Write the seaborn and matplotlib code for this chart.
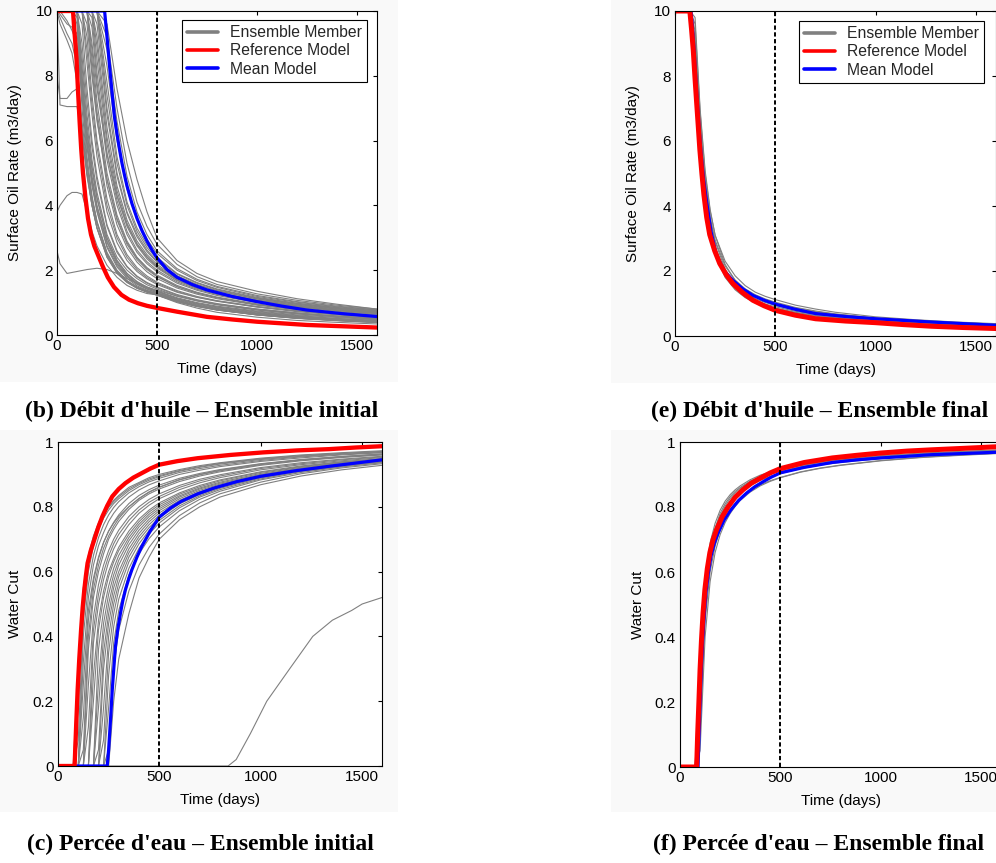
import numpy as np
import pandas as pd
import matplotlib
matplotlib.use("Agg")
import matplotlib.pyplot as plt
import seaborn as sns
from matplotlib.lines import Line2D
from matplotlib.patches import Rectangle

# ------------------------------------------------------------------ data
assimilation_end = 500  # dashed vertical line (days)

# --- (b) oil rate, initial ensemble
oil_grid = [0, 15, 50, 75, 100, 125, 150, 175, 200, 250, 300, 350, 400, 450,
            500, 600, 700, 800, 1000, 1200, 1400, 1600]
oil_initial_members = [
    [10, 10, 10, 10, 10, 7.4, 5.5, 4.3, 3.5, 2.5, 1.95, 1.65, 1.45, 1.33, 1.23, 1.0, 0.83, 0.7, 0.55, 0.45, 0.39, 0.34],
    [10, 10, 10, 10, 9.6, 7.6, 5.8, 4.6, 3.8, 2.7, 2.1, 1.75, 1.52, 1.38, 1.28, 1.06, 0.9, 0.78, 0.62, 0.51, 0.44, 0.38],
    [10, 10, 10, 10, 10, 8.0, 6.2, 4.9, 4.0, 2.9, 2.25, 1.85, 1.6, 1.45, 1.34, 1.12, 0.97, 0.87, 0.72, 0.6, 0.51, 0.45],
    [10, 10, 10, 10, 10, 8.6, 6.8, 5.4, 4.4, 3.1, 2.4, 2.0, 1.74, 1.55, 1.42, 1.2, 1.05, 0.93, 0.77, 0.65, 0.56, 0.49],
    [10, 10, 10, 10, 10, 9.6, 7.6, 6.0, 4.9, 3.4, 2.6, 2.12, 1.82, 1.62, 1.48, 1.25, 1.09, 0.97, 0.8, 0.68, 0.58, 0.5],
    [10, 10, 10, 10, 10, 10, 8.4, 6.8, 5.5, 3.8, 2.85, 2.3, 1.96, 1.73, 1.56, 1.32, 1.16, 1.04, 0.86, 0.72, 0.62, 0.54],
    [10, 10, 10, 10, 10, 10, 9.2, 7.4, 6.0, 4.2, 3.1, 2.48, 2.08, 1.82, 1.63, 1.37, 1.19, 1.06, 0.88, 0.75, 0.65, 0.57],
    [10, 10, 10, 10, 10, 10, 10, 8.2, 6.7, 4.6, 3.4, 2.7, 2.25, 1.95, 1.74, 1.45, 1.26, 1.12, 0.92, 0.78, 0.67, 0.59],
    [10, 10, 10, 10, 10, 10, 10, 8.8, 7.2, 5.0, 3.7, 2.9, 2.4, 2.08, 1.85, 1.53, 1.32, 1.17, 0.96, 0.81, 0.7, 0.61],
    [10, 10, 10, 10, 10, 10, 10, 9.5, 7.8, 5.4, 4.0, 3.1, 2.55, 2.2, 1.95, 1.6, 1.38, 1.22, 1.0, 0.85, 0.73, 0.64],
    [10, 10, 10, 10, 10, 10, 10, 10, 8.5, 5.9, 4.3, 3.35, 2.75, 2.35, 2.07, 1.68, 1.44, 1.27, 1.04, 0.88, 0.76, 0.67],
    [10, 10, 10, 10, 10, 10, 10, 10, 9.2, 6.4, 4.6, 3.55, 2.9, 2.48, 2.18, 1.76, 1.5, 1.32, 1.08, 0.92, 0.8, 0.7],
    [10, 10, 10, 10, 10, 10, 10, 10, 10, 7.0, 5.0, 3.8, 3.1, 2.62, 2.28, 1.83, 1.56, 1.37, 1.12, 0.95, 0.82, 0.72],
    [10, 10, 10, 10, 10, 10, 10, 10, 10, 7.8, 5.5, 4.1, 3.3, 2.78, 2.4, 1.9, 1.62, 1.42, 1.16, 0.98, 0.85, 0.75],
    [10, 10, 10, 10, 10, 10, 10, 10, 10, 9.6, 7.6, 6.0, 4.8, 3.8, 3.0, 2.3, 1.9, 1.65, 1.35, 1.12, 0.95, 0.8],
    [10, 10, 10, 10, 10, 10, 10, 10, 10, 8.8, 6.6, 4.9, 3.8, 3.1, 2.6, 2.05, 1.72, 1.5, 1.22, 1.03, 0.89, 0.78],
    [10, 10, 10, 10, 10, 10, 10, 9.0, 7.6, 5.6, 4.3, 3.4, 2.8, 2.4, 2.1, 1.7, 1.45, 1.28, 1.05, 0.89, 0.77, 0.68],
    [10, 10, 10, 10, 10, 10, 9.6, 8.0, 6.6, 4.8, 3.6, 2.85, 2.38, 2.05, 1.82, 1.5, 1.3, 1.15, 0.94, 0.8, 0.69, 0.61],
    [10, 10, 10, 10, 10, 7.8, 6.0, 4.7, 3.85, 2.75, 2.15, 1.8, 1.57, 1.42, 1.31, 1.1, 0.95, 0.84, 0.68, 0.57, 0.49, 0.43],
    [10, 10, 10, 10, 10, 9.0, 7.2, 5.8, 4.75, 3.35, 2.55, 2.1, 1.8, 1.6, 1.46, 1.23, 1.07, 0.95, 0.78, 0.66, 0.57, 0.5],
    [10, 10, 10, 10, 10, 10, 8.8, 7.1, 5.8, 4.0, 3.0, 2.4, 2.02, 1.77, 1.6, 1.34, 1.17, 1.05, 0.87, 0.74, 0.64, 0.56],
    [10, 10, 10, 10, 10, 10, 10, 8.5, 6.9, 4.8, 3.55, 2.8, 2.33, 2.02, 1.8, 1.49, 1.29, 1.15, 0.94, 0.8, 0.69, 0.6],
    [10, 10, 10, 10, 10, 10, 10, 9.8, 8.1, 5.6, 4.15, 3.2, 2.62, 2.26, 2.0, 1.64, 1.41, 1.25, 1.02, 0.87, 0.75, 0.66],
    [10, 10, 10, 10, 10, 10, 10, 10, 8.9, 6.1, 4.45, 3.45, 2.82, 2.42, 2.13, 1.73, 1.48, 1.3, 1.07, 0.9, 0.78, 0.69],
    [10, 10, 10, 10, 10, 10, 10, 10, 9.6, 6.8, 4.9, 3.75, 3.03, 2.57, 2.25, 1.81, 1.54, 1.36, 1.11, 0.94, 0.82, 0.72],
    [10, 10, 10, 10, 10, 10, 10, 10, 10, 7.4, 5.3, 4.0, 3.2, 2.7, 2.35, 1.88, 1.6, 1.4, 1.14, 0.97, 0.84, 0.74],
    [10, 10, 10, 10, 10, 10, 10, 10, 10, 8.3, 6.0, 4.5, 3.55, 2.95, 2.52, 2.0, 1.68, 1.47, 1.19, 1.01, 0.87, 0.77],
    [10, 10, 10, 10, 10, 10, 10, 10, 10, 9.2, 7.0, 5.3, 4.1, 3.35, 2.8, 2.18, 1.8, 1.56, 1.27, 1.07, 0.92, 0.8],
    [10, 10, 10, 10, 9.8, 7.0, 5.3, 4.2, 3.45, 2.5, 1.97, 1.66, 1.46, 1.33, 1.24, 1.04, 0.9, 0.8, 0.66, 0.56, 0.49, 0.44],
    [10, 10, 10, 10, 10, 8.3, 6.5, 5.2, 4.25, 3.0, 2.3, 1.9, 1.65, 1.48, 1.36, 1.15, 1.0, 0.89, 0.74, 0.62, 0.54, 0.47],
    [10, 9.8, 9.3, 9.0, 8.3, 6.6, 5.2, 4.2, 3.5, 2.55, 2.0, 1.68, 1.48, 1.35, 1.25, 1.04, 0.89, 0.78, 0.63, 0.52, 0.45, 0.4],
    [10, 10, 9.7, 9.4, 9.0, 7.4, 5.9, 4.8, 3.95, 2.85, 2.2, 1.82, 1.57, 1.42, 1.3, 1.08, 0.93, 0.82, 0.66, 0.55, 0.47, 0.41],
    [10, 9.6, 9.1, 8.7, 7.8, 6.2, 4.9, 4.0, 3.3, 2.4, 1.92, 1.63, 1.44, 1.32, 1.23, 1.03, 0.88, 0.77, 0.62, 0.52, 0.45, 0.39],
    [10, 9.9, 9.6, 9.5, 9.3, 7.9, 6.3, 5.1, 4.2, 3.0, 2.3, 1.9, 1.64, 1.47, 1.35, 1.13, 0.98, 0.86, 0.7, 0.58, 0.5, 0.44],
    [8.0, 7.3, 7.3, 7.5, 7.6, 6.4, 5.0, 4.0, 3.3, 2.4, 1.9, 1.62, 1.45, 1.34, 1.26, 1.05, 0.9, 0.79, 0.63, 0.53, 0.46, 0.4],
    [3.8, 4.0, 4.3, 4.4, 4.4, 4.35, 3.8, 3.2, 2.75, 2.15, 1.78, 1.53, 1.38, 1.28, 1.24, 1.03, 0.88, 0.77, 0.62, 0.52, 0.45, 0.39],
    [2.6, 2.2, 1.9, 1.93, 1.96, 1.99, 2.02, 2.04, 2.06, 2.02, 1.9, 1.74, 1.6, 1.48, 1.38, 1.2, 1.06, 0.95, 0.8, 0.68, 0.59, 0.52],
    [10, 7.1, 7.05, 7.05, 7.05, 6.2, 5.0, 4.0, 3.3, 2.45, 1.95, 1.66, 1.48, 1.36, 1.27, 1.06, 0.91, 0.8, 0.64, 0.53, 0.46, 0.41],
]
oil_initial_ref_t = [0, 80, 88, 97, 105, 113, 121, 130, 142, 155, 170, 187, 205, 230, 254, 285,
                     322, 360, 405, 450, 505, 600, 750, 875, 1000, 1125, 1250, 1425, 1600]
oil_initial_ref_v = [10, 10, 9.3, 8.6, 7.55, 6.6, 5.75, 5.0, 4.25, 3.6, 3.1, 2.74, 2.47, 2.1, 1.78, 1.48,
                     1.24, 1.09, 0.98, 0.9, 0.83, 0.72, 0.56, 0.48, 0.41, 0.36, 0.31, 0.27, 0.23]
oil_initial_mean_t = [0, 238, 250, 262, 275, 287, 300, 312, 325, 337, 350, 375, 400, 425, 450,
                      475, 500, 550, 600, 675, 750, 875, 1000, 1125, 1250, 1425, 1600]
oil_initial_mean_v = [10, 10, 9.2, 8.35, 7.5, 6.75, 6.2, 5.75, 5.3, 4.95, 4.6, 4.05, 3.6, 3.22, 2.9,
                      2.62, 2.38, 2.02, 1.78, 1.56, 1.39, 1.19, 1.03, 0.89, 0.77, 0.66, 0.57]

# --- (e) oil rate, final ensemble
oil_final_members = [
    [10, 10, 10, 10, 8.6, 5.8, 4.2, 3.2, 2.6, 1.85, 1.45, 1.2, 1.05, 0.94, 0.86, 0.73, 0.63, 0.56, 0.46, 0.39, 0.34, 0.3],
    [10, 10, 10, 10, 9.0, 6.2, 4.5, 3.4, 2.75, 1.95, 1.52, 1.27, 1.1, 0.98, 0.9, 0.76, 0.66, 0.58, 0.48, 0.41, 0.36, 0.32],
    [10, 10, 10, 10, 9.4, 6.6, 4.8, 3.65, 2.9, 2.05, 1.6, 1.33, 1.15, 1.03, 0.94, 0.8, 0.69, 0.61, 0.5, 0.43, 0.37, 0.33],
    [10, 10, 10, 10, 9.8, 7.0, 5.1, 3.9, 3.1, 2.2, 1.7, 1.4, 1.21, 1.08, 0.98, 0.83, 0.72, 0.64, 0.52, 0.44, 0.38, 0.34],
    [10, 10, 10, 10, 9.2, 6.4, 4.7, 3.6, 2.95, 2.15, 1.72, 1.45, 1.27, 1.14, 1.04, 0.88, 0.77, 0.68, 0.55, 0.47, 0.41, 0.36],
    [10, 10, 10, 10, 8.8, 6.0, 4.3, 3.3, 2.7, 2.0, 1.62, 1.38, 1.22, 1.1, 1.01, 0.86, 0.75, 0.67, 0.55, 0.47, 0.41, 0.37],
    [10, 10, 10, 10, 9.6, 6.9, 5.0, 3.85, 3.1, 2.3, 1.85, 1.55, 1.35, 1.22, 1.12, 0.95, 0.83, 0.73, 0.59, 0.5, 0.43, 0.38],
    [10, 10, 10, 10, 8.4, 5.6, 4.0, 3.05, 2.5, 1.8, 1.42, 1.18, 1.02, 0.92, 0.84, 0.71, 0.61, 0.54, 0.44, 0.37, 0.32, 0.28],
]
oil_final_ref_t = [0, 74, 83, 91, 99, 107, 116, 124, 134, 144, 158, 173, 198, 223, 256, 289,
                   338, 388, 444, 500, 600, 701, 850, 1000, 1140, 1279, 1440, 1600]
oil_final_ref_v = [10, 10, 9.4, 8.8, 8.0, 7.26, 6.45, 5.72, 5.0, 4.35, 3.65, 3.12, 2.62, 2.23, 1.88, 1.61,
                   1.33, 1.1, 0.93, 0.79, 0.64, 0.53, 0.46, 0.41, 0.35, 0.3, 0.26, 0.23]
oil_final_mean_t = [0, 80, 88, 95, 103, 110, 120, 130, 143, 157, 180, 206, 245, 289, 338, 388,
                    444, 500, 600, 701, 850, 1000, 1140, 1279, 1440, 1600]
oil_final_mean_v = [10, 10, 9.4, 8.8, 8.0, 7.3, 6.4, 5.6, 4.8, 4.15, 3.2, 2.5, 2.0, 1.71, 1.45, 1.25,
                    1.1, 0.98, 0.82, 0.69, 0.6, 0.53, 0.48, 0.43, 0.38, 0.33]

# --- (c) water cut, initial ensemble
wct_grid = [0, 50, 75, 100, 125, 150, 175, 200, 225, 250, 275, 300, 350, 400,
            450, 500, 600, 700, 800, 1000, 1200, 1400, 1600]
wct_initial_members = [
    [0, 0, 0, 0.3, 0.55, 0.65, 0.71, 0.75, 0.78, 0.8, 0.82, 0.835, 0.86, 0.875, 0.89, 0.9, 0.915, 0.927, 0.936, 0.95, 0.96, 0.967, 0.973],
    [0, 0, 0, 0.08, 0.45, 0.6, 0.68, 0.73, 0.765, 0.79, 0.81, 0.825, 0.85, 0.868, 0.882, 0.893, 0.91, 0.922, 0.932, 0.946, 0.956, 0.964, 0.97],
    [0, 0, 0, 0, 0.32, 0.52, 0.62, 0.68, 0.72, 0.755, 0.78, 0.8, 0.83, 0.852, 0.868, 0.88, 0.9, 0.913, 0.924, 0.94, 0.951, 0.96, 0.967],
    [0, 0, 0, 0, 0.15, 0.45, 0.57, 0.64, 0.69, 0.725, 0.752, 0.775, 0.81, 0.835, 0.853, 0.867, 0.888, 0.903, 0.915, 0.933, 0.946, 0.955, 0.963],
    [0, 0, 0, 0, 0, 0.36, 0.52, 0.6, 0.655, 0.7, 0.73, 0.755, 0.792, 0.82, 0.84, 0.855, 0.878, 0.895, 0.908, 0.928, 0.942, 0.952, 0.96],
    [0, 0, 0, 0, 0, 0.25, 0.46, 0.56, 0.62, 0.665, 0.7, 0.728, 0.77, 0.8, 0.823, 0.84, 0.866, 0.885, 0.899, 0.921, 0.936, 0.947, 0.956],
    [0, 0, 0, 0, 0, 0, 0.38, 0.5, 0.575, 0.63, 0.67, 0.7, 0.745, 0.78, 0.805, 0.825, 0.853, 0.874, 0.89, 0.914, 0.93, 0.942, 0.952],
    [0, 0, 0, 0, 0, 0, 0.28, 0.45, 0.54, 0.6, 0.64, 0.675, 0.725, 0.762, 0.79, 0.812, 0.843, 0.866, 0.883, 0.908, 0.926, 0.939, 0.949],
    [0, 0, 0, 0, 0, 0, 0, 0.36, 0.48, 0.555, 0.61, 0.65, 0.705, 0.746, 0.777, 0.8, 0.834, 0.858, 0.876, 0.903, 0.922, 0.936, 0.946],
    [0, 0, 0, 0, 0, 0, 0, 0.18, 0.4, 0.5, 0.57, 0.62, 0.683, 0.728, 0.762, 0.788, 0.825, 0.851, 0.87, 0.898, 0.918, 0.933, 0.944],
    [0, 0, 0, 0, 0, 0, 0, 0, 0.3, 0.44, 0.525, 0.585, 0.658, 0.708, 0.745, 0.774, 0.815, 0.843, 0.864, 0.894, 0.915, 0.93, 0.942],
    [0, 0, 0, 0, 0, 0, 0, 0, 0.08, 0.35, 0.47, 0.545, 0.63, 0.686, 0.727, 0.758, 0.803, 0.834, 0.857, 0.889, 0.911, 0.927, 0.94],
    [0, 0, 0, 0, 0, 0, 0, 0, 0, 0.18, 0.38, 0.48, 0.59, 0.655, 0.702, 0.738, 0.788, 0.823, 0.848, 0.883, 0.906, 0.923, 0.936],
    [0, 0, 0, 0, 0, 0, 0, 0, 0, 0, 0.2, 0.33, 0.47, 0.58, 0.645, 0.7, 0.76, 0.8, 0.83, 0.868, 0.895, 0.914, 0.928],
    [0, 0, 0, 0, 0.25, 0.48, 0.58, 0.645, 0.69, 0.725, 0.75, 0.77, 0.8, 0.825, 0.845, 0.86, 0.884, 0.9, 0.913, 0.932, 0.945, 0.955, 0.963],
    [0, 0, 0, 0.18, 0.5, 0.63, 0.7, 0.745, 0.775, 0.798, 0.816, 0.831, 0.855, 0.872, 0.886, 0.896, 0.912, 0.924, 0.934, 0.948, 0.958, 0.965, 0.971],
    [0, 0, 0, 0, 0.4, 0.56, 0.65, 0.705, 0.745, 0.775, 0.798, 0.816, 0.843, 0.862, 0.877, 0.888, 0.906, 0.918, 0.928, 0.943, 0.954, 0.962, 0.968],
    [0, 0, 0, 0, 0.05, 0.4, 0.545, 0.62, 0.672, 0.71, 0.74, 0.764, 0.8, 0.826, 0.846, 0.861, 0.883, 0.899, 0.911, 0.93, 0.944, 0.954, 0.961],
    [0, 0, 0, 0, 0, 0.12, 0.42, 0.53, 0.598, 0.648, 0.686, 0.715, 0.758, 0.79, 0.814, 0.832, 0.86, 0.88, 0.895, 0.918, 0.933, 0.945, 0.954],
    [0, 0, 0, 0, 0, 0, 0.2, 0.42, 0.52, 0.585, 0.63, 0.665, 0.715, 0.754, 0.784, 0.806, 0.839, 0.862, 0.88, 0.906, 0.924, 0.938, 0.948],
    [0, 0, 0, 0, 0, 0, 0, 0.26, 0.44, 0.53, 0.59, 0.635, 0.695, 0.738, 0.77, 0.794, 0.83, 0.855, 0.873, 0.9, 0.92, 0.934, 0.945],
    [0, 0, 0, 0, 0, 0, 0, 0.05, 0.35, 0.47, 0.55, 0.6, 0.67, 0.718, 0.754, 0.781, 0.82, 0.847, 0.867, 0.896, 0.916, 0.931, 0.943],
    [0, 0, 0, 0, 0, 0, 0, 0, 0.18, 0.4, 0.5, 0.565, 0.645, 0.698, 0.736, 0.766, 0.809, 0.838, 0.86, 0.891, 0.913, 0.929, 0.941],
    [0, 0, 0, 0, 0, 0, 0, 0, 0, 0.28, 0.43, 0.515, 0.61, 0.672, 0.716, 0.75, 0.797, 0.83, 0.853, 0.886, 0.909, 0.925, 0.938],
    [0, 0, 0, 0, 0, 0, 0, 0, 0, 0.05, 0.3, 0.42, 0.54, 0.62, 0.675, 0.716, 0.773, 0.812, 0.84, 0.876, 0.902, 0.92, 0.933],
]
wct_outlier_t = [0, 840, 880, 950, 1031, 1144, 1258, 1355, 1450, 1502, 1600]
wct_outlier_v = [0, 0, 0.02, 0.10, 0.20, 0.30, 0.40, 0.45, 0.48, 0.50, 0.52]
wct_initial_ref_t = [0, 82, 90, 97, 105, 114, 122, 130, 138, 146, 162, 179, 199, 219, 243, 268,
                     300, 333, 372, 414, 456, 500, 590, 690, 850, 1015, 1180, 1339, 1470, 1600]
wct_initial_ref_v = [0, 0, 0.13, 0.235, 0.33, 0.42, 0.49, 0.544, 0.588, 0.626, 0.665, 0.698, 0.737, 0.77,
                     0.803, 0.832, 0.855, 0.873, 0.89, 0.904, 0.918, 0.93, 0.941, 0.95, 0.96, 0.968,
                     0.974, 0.978, 0.983, 0.987]
wct_initial_mean_t = [0, 243, 250, 256, 262, 268, 276, 284, 296, 308, 320, 333, 349, 365, 390, 414,
                      457, 500, 555, 609, 690, 771, 885, 1000, 1170, 1339, 1470, 1600]
wct_initial_mean_v = [0, 0, 0.05, 0.11, 0.17, 0.235, 0.305, 0.37, 0.425, 0.47, 0.51, 0.544, 0.577,
                      0.606, 0.645, 0.678, 0.727, 0.768, 0.796, 0.817, 0.84, 0.858, 0.878, 0.894,
                      0.911, 0.925, 0.935, 0.945]

# --- (f) water cut, final ensemble
wct_final_members = [
    [0, 0, 0, 0.15, 0.5, 0.64, 0.71, 0.76, 0.79, 0.815, 0.832, 0.846, 0.867, 0.882, 0.894, 0.903, 0.918, 0.929, 0.937, 0.949, 0.958, 0.964, 0.969],
    [0, 0, 0, 0.25, 0.55, 0.67, 0.735, 0.78, 0.81, 0.832, 0.848, 0.86, 0.88, 0.894, 0.905, 0.913, 0.927, 0.937, 0.945, 0.956, 0.964, 0.97, 0.975],
    [0, 0, 0, 0.1, 0.45, 0.6, 0.68, 0.73, 0.765, 0.79, 0.81, 0.826, 0.85, 0.868, 0.881, 0.891, 0.908, 0.92, 0.929, 0.943, 0.953, 0.96, 0.966],
    [0, 0, 0, 0.2, 0.52, 0.655, 0.725, 0.772, 0.803, 0.826, 0.843, 0.857, 0.877, 0.891, 0.902, 0.91, 0.924, 0.934, 0.942, 0.953, 0.961, 0.967, 0.972],
    [0, 0, 0, 0.05, 0.4, 0.57, 0.66, 0.715, 0.752, 0.78, 0.802, 0.82, 0.846, 0.865, 0.879, 0.89, 0.907, 0.919, 0.928, 0.942, 0.952, 0.959, 0.965],
    [0, 0, 0, 0.3, 0.58, 0.69, 0.75, 0.79, 0.818, 0.838, 0.853, 0.865, 0.884, 0.898, 0.908, 0.916, 0.929, 0.939, 0.947, 0.958, 0.966, 0.971, 0.976],
]
wct_final_ref_t = [0, 83, 88, 94, 100, 107, 115, 124, 136, 149, 165, 182, 210, 239, 275, 314,
                   355, 401, 450, 500, 620, 759, 880, 1000, 1130, 1254, 1430, 1600]
wct_final_ref_v = [0, 0, 0.1, 0.197, 0.3, 0.39, 0.475, 0.546, 0.61, 0.66, 0.7, 0.73, 0.77, 0.80,
                   0.83, 0.853, 0.873, 0.889, 0.905, 0.918, 0.937, 0.951, 0.959, 0.966, 0.972,
                   0.976, 0.981, 0.986]
wct_final_mean_t = [0, 90, 95, 100, 106, 113, 121, 130, 142, 155, 172, 190, 220, 252, 292, 332,
                    372, 412, 455, 500, 620, 759, 880, 1000, 1130, 1254, 1430, 1600]
wct_final_mean_v = [0, 0, 0.1, 0.2, 0.3, 0.39, 0.47, 0.54, 0.6, 0.65, 0.69, 0.72, 0.76, 0.79,
                    0.82, 0.843, 0.862, 0.877, 0.892, 0.905, 0.922, 0.937, 0.945, 0.951, 0.956,
                    0.961, 0.965, 0.969]

# text
oil_ylabel = "Surface Oil Rate (m3/day)"
wct_ylabel = "Water Cut"
xlabel = "Time (days)"
legend_labels = ["Ensemble Member", "Reference Model", "Mean Model"]
captions = ["(b) Débit d'huile – Ensemble initial",
            "(e) Débit d'huile – Ensemble final",
            "(c) Percée d'eau – Ensemble initial",
            "(f) Percée d'eau – Ensemble final"]
oil_yticks = [0, 2, 4, 6, 8, 10]
wct_yticks = [0, 0.2, 0.4, 0.6, 0.8, 1.0]
wct_yticklabels = ["0", "0.2", "0.4", "0.6", "0.8", "1"]
x_ticks = [0, 500, 1000, 1500]

# ------------------------------------------------------------------ style
sns.set_theme(style="white")
plt.rcParams["font.family"] = ["Liberation Sans", "DejaVu Sans"]
plt.rcParams["xtick.direction"] = "in"
plt.rcParams["ytick.direction"] = "in"

GRAY = "#808080"
W, H = 996, 863
fig = plt.figure(figsize=(W / 100, H / 100), dpi=100)
fig.patch.set_facecolor("white")

# faint screenshot backgrounds (behind everything)
for (x0, y0, x1, y1) in [(0, 0, 398, 382), (611, 0, 996, 383),
                         (0, 430, 398, 812), (611, 430, 996, 812)]:
    fig.patches.append(Rectangle((x0 / W, 1 - y1 / H), (x1 - x0) / W, (y1 - y0) / H,
                                 transform=fig.transFigure, facecolor="#f9f9f9",
                                 edgecolor="none", zorder=-10))


def px_axes(left, top, right, bottom):
    ax = fig.add_axes([left / W, 1 - bottom / H, (right - left) / W, (bottom - top) / H])
    ax.set_zorder(5)
    return ax


def members_frame(grid, members):
    rows = []
    for i, vals in enumerate(members):
        for t, v in zip(grid, vals):
            rows.append((i, t, v))
    return pd.DataFrame(rows, columns=["member", "time", "value"])


def draw_panel(ax, grid, members, ref_t, ref_v, mean_t, mean_v, ylim, yticks,
               yticklabels, ylabel, legend, extra=None, ref_lw=3.1, mean_lw=2.3):
    ax.set_facecolor("white")
    df = members_frame(grid, members)
    sns.lineplot(data=df, x="time", y="value", units="member", estimator=None,
                 color=GRAY, lw=0.8, ax=ax, legend=False, sort=False)
    if extra is not None:
        sns.lineplot(x=extra[0], y=extra[1], estimator=None, color=GRAY, lw=0.8,
                     ax=ax, legend=False, sort=False)
    sns.lineplot(x=mean_t, y=mean_v, estimator=None, color="#0000ff", lw=mean_lw,
                 ax=ax, legend=False, sort=False)
    sns.lineplot(x=ref_t, y=ref_v, estimator=None, color="#ff0000", lw=ref_lw,
                 ax=ax, legend=False, sort=False)
    ax.axvline(assimilation_end, color="black", lw=1.4, ls=(0, (2.2, 1.3)), zorder=5)
    ax.set_xlim(0, 1600)
    ax.set_ylim(*ylim)
    ax.set_xticks(x_ticks)
    ax.set_xticklabels([str(t) for t in x_ticks])
    ax.set_yticks(yticks)
    ax.set_yticklabels(yticklabels)
    ax.tick_params(axis="both", which="both", direction="in", length=3,
                   width=0.8, color="black", labelsize=11, pad=3,
                   top=True, right=True, labelcolor="black")
    for s in ax.spines.values():
        s.set_visible(True)
        s.set_color("black")
        s.set_linewidth(0.8)
    ax.set_xlabel(xlabel, fontsize=11, color="black")
    ax.set_ylabel(ylabel, fontsize=11, color="black")
    ax.xaxis.set_label_coords(0.5, -0.082)
    ax.yaxis.set_label_coords(-0.11, 0.5)
    ax.grid(False)
    if legend:
        handles = [Line2D([0], [0], color=GRAY, lw=2.6),
                   Line2D([0], [0], color="#ff0000", lw=2.6),
                   Line2D([0], [0], color="#0000ff", lw=2.6)]
        leg = ax.legend(handles, legend_labels, loc="upper right",
                        bbox_to_anchor=(legend[0], legend[1]), borderaxespad=0,
                        prop={"size": 11.3}, frameon=True, fancybox=False,
                        edgecolor="black", framealpha=1, handlelength=2.0,
                        handletextpad=0.75, borderpad=0.32, labelspacing=0.22)
        leg.get_frame().set_linewidth(0.8)


ax_b = px_axes(57, 11, 377, 335)
draw_panel(ax_b, oil_grid, oil_initial_members, oil_initial_ref_t, oil_initial_ref_v,
           oil_initial_mean_t, oil_initial_mean_v, (0, 10), oil_yticks,
           [str(v) for v in oil_yticks], oil_ylabel, legend=((367 - 57) / 320, 1 - 9 / 324))

ax_e = px_axes(675, 11, 996, 336)
draw_panel(ax_e, oil_grid, oil_final_members, oil_final_ref_t, oil_final_ref_v,
           oil_final_mean_t, oil_final_mean_v, (0, 10), oil_yticks,
           [str(v) for v in oil_yticks], oil_ylabel, legend=((984 - 675) / 321, 1 - 10 / 325),
           ref_lw=3.6)

ax_c = px_axes(58, 442, 382, 766)
draw_panel(ax_c, wct_grid, wct_initial_members, wct_initial_ref_t, wct_initial_ref_v,
           wct_initial_mean_t, wct_initial_mean_v, (0, 1), wct_yticks,
           wct_yticklabels, wct_ylabel, legend=None, extra=(wct_outlier_t, wct_outlier_v))

ax_f = px_axes(680, 442, 1001, 767)
draw_panel(ax_f, wct_grid, wct_final_members, wct_final_ref_t, wct_final_ref_v,
           wct_final_mean_t, wct_final_mean_v, (0, 1), wct_yticks,
           wct_yticklabels, wct_ylabel, legend=None, ref_lw=3.6)

cap_pos = [(202, 411), (820, 411), (200, 844), (819, 844)]
for (cx, cy), txt in zip(cap_pos, captions):
    fig.text(cx / W, 1 - cy / H, txt, ha="center", va="center", fontsize=17,
             fontweight="bold", family=["Liberation Serif", "DejaVu Serif"],
             color="black", zorder=10)

fig.savefig("out.png", dpi=100)
